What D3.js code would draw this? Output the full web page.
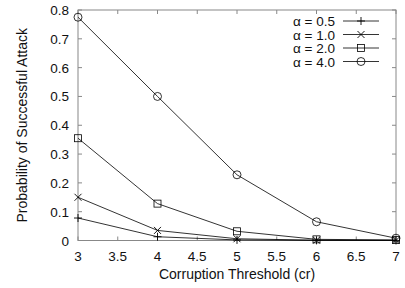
<!DOCTYPE html>
<html>
<head>
<meta charset="utf-8">
<script src="https://cdn.jsdelivr.net/npm/d3@7"></script>
<style>
body{margin:0;background:#fff;}
text{font-family:"Liberation Sans",Arial,sans-serif;fill:#111;}
</style>
</head>
<body>
<svg id="chart" width="405" height="288"></svg>
<script>
// data
let thresholds = [3, 4, 5, 6, 7];
let alpha05 = [0.078, 0.013, 0.002, 0.0005, 0.0002];
let alpha10 = [0.150, 0.035, 0.006, 0.001, 0.0003];
let alpha20 = [0.355, 0.128, 0.032, 0.004, 0.002];
let alpha40 = [0.775, 0.500, 0.228, 0.065, 0.008];
let legendLabels = ["\u03b1 = 0.5", "\u03b1 = 1.0", "\u03b1 = 2.0", "\u03b1 = 4.0"];
let markers = ["plus", "cross", "square", "circle"];
let xTicks = [3, 3.5, 4, 4.5, 5, 5.5, 6, 6.5, 7];
let yTicks = [0, 0.1, 0.2, 0.3, 0.4, 0.5, 0.6, 0.7, 0.8];

let series = [alpha05, alpha10, alpha20, alpha40];

let svg = d3.select("#chart");
let pLeft = 78, pRight = 396, pTop = 10, pBottom = 240.5;

let x = d3.scaleLinear().domain([3, 7]).range([pLeft, pRight]);
let y = d3.scaleLinear().domain([0, 0.8]).range([pBottom, pTop]);

let borderColor = "#888";

// frame
svg.append("rect").attr("x", pLeft).attr("y", pTop)
  .attr("width", pRight - pLeft).attr("height", pBottom - pTop)
  .attr("fill", "none").attr("stroke", borderColor).attr("stroke-width", 1);

// ticks inward, mirrored
let tk = 4;
xTicks.forEach(t => {
  svg.append("line").attr("x1", x(t)).attr("x2", x(t)).attr("y1", pBottom).attr("y2", pBottom - tk).attr("stroke", borderColor);
  svg.append("line").attr("x1", x(t)).attr("x2", x(t)).attr("y1", pTop).attr("y2", pTop + tk).attr("stroke", borderColor);
  svg.append("text").attr("x", x(t)).attr("y", 261).attr("text-anchor", "middle")
    .attr("font-size", 13.5).text(t);
});
yTicks.forEach(t => {
  svg.append("line").attr("x1", pLeft).attr("x2", pLeft + tk).attr("y1", y(t)).attr("y2", y(t)).attr("stroke", borderColor);
  svg.append("line").attr("x1", pRight).attr("x2", pRight - tk).attr("y1", y(t)).attr("y2", y(t)).attr("stroke", borderColor);
  svg.append("text").attr("x", 69).attr("y", y(t) + 5).attr("text-anchor", "end")
    .attr("font-size", 13.5).text(t);
});

// axis titles
svg.append("text").attr("x", (pLeft + pRight) / 2).attr("y", 279).attr("text-anchor", "middle")
  .attr("font-size", 14).text("Corruption Threshold (cr)");
svg.append("text").attr("transform", "translate(27," + ((pTop + pBottom) / 2) + ") rotate(-90)")
  .attr("text-anchor", "middle").attr("font-size", 14).text("Probability of Successful Attack");

function drawMarker(g, kind, cx, cy) {
  let s = 4;
  if (kind == "plus") {
    g.append("path").attr("d", `M${cx - s},${cy}H${cx + s}M${cx},${cy - s}V${cy + s}`)
      .attr("stroke", "#000").attr("stroke-width", 0.9).attr("fill", "none");
  } else if (kind == "cross") {
    let c = 3.5;
    g.append("path").attr("d", `M${cx - c},${cy - c}L${cx + c},${cy + c}M${cx - c},${cy + c}L${cx + c},${cy - c}`)
      .attr("stroke", "#000").attr("stroke-width", 0.9).attr("fill", "none");
  } else if (kind == "square") {
    g.append("rect").attr("x", cx - 3.5).attr("y", cy - 3.5).attr("width", 7).attr("height", 7)
      .attr("stroke", "#000").attr("stroke-width", 0.8).attr("fill", "none");
  } else {
    g.append("circle").attr("cx", cx).attr("cy", cy).attr("r", 4)
      .attr("stroke", "#000").attr("stroke-width", 0.8).attr("fill", "none");
  }
}

let line = d3.line().x((d, i) => x(thresholds[i])).y(d => y(d));

series.forEach((vals, k) => {
  let g = svg.append("g");
  g.append("path").attr("d", line(vals)).attr("fill", "none")
    .attr("stroke", "#000").attr("stroke-width", 0.8);
  vals.forEach((v, i) => drawMarker(g, markers[k], x(thresholds[i]), y(v)));
});

// legend
legendLabels.forEach((lab, k) => {
  let ly = 21 + k * 13.5;
  svg.append("text").attr("x", 335).attr("y", ly + 5).attr("text-anchor", "end")
    .attr("font-size", 13.5).text(lab);
  svg.append("line").attr("x1", 343).attr("x2", 379).attr("y1", ly).attr("y2", ly)
    .attr("stroke", "#000").attr("stroke-width", 0.8);
  drawMarker(svg, markers[k], 361, ly);
});
</script>
</body>
</html>
